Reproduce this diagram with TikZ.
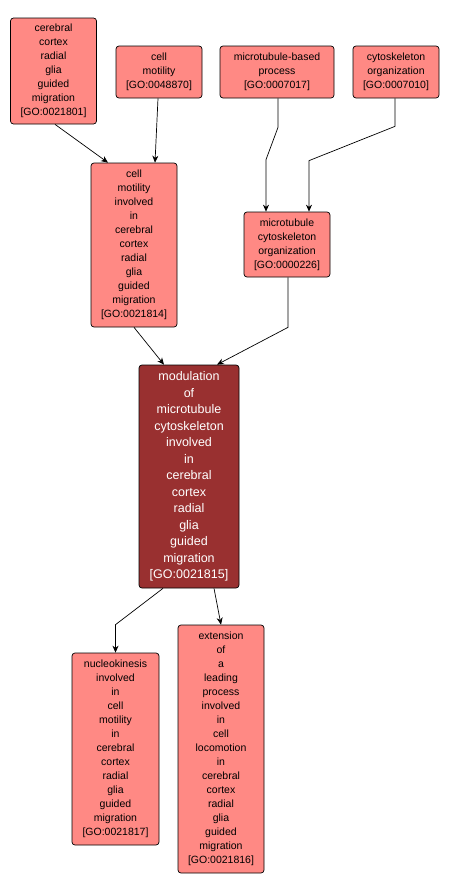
\documentclass[tikz,border=0pt]{standalone}
\usepackage{fontspec}
\setmainfont{Liberation Sans}
\definecolor{salmonred}{RGB}{255,137,132}
\definecolor{darkbrickred}{RGB}{153,48,48}
\usetikzlibrary{arrows.meta, positioning}
\tikzstyle{term}=[rectangle, rounded corners=3pt, draw=black, line width=0.7pt, fill=salmonred, align=center, inner sep=0pt, font=\fontsize{10.5}{14}\selectfont]
\tikzstyle{focus}=[term, fill=darkbrickred, text=white, font=\fontsize{12.5}{16.5}\selectfont]
\tikzstyle{arrow}=[line width=0.7pt, -{Stealth[length=7pt,width=6pt]}]

\begin{document}
\begin{tikzpicture}[x=1pt, y=-1pt]
		\useasboundingbox (0,0) rectangle (449,894);
		\node(n1-1)[term, minimum width=86, minimum height=106] at (53.5,71){cerebral\\cortex\\radial\\glia\\guided\\migration\\{[GO:0021801]}};
		\node(n1-2)[term, minimum width=86, minimum height=52] at (159,72){cell\\motility\\{[GO:0048870]}};
		\node(n1-3)[term, minimum width=114, minimum height=52] at (277,72){microtubule-based\\process\\{[GO:0007017]}};
		\node(n1-4)[term, minimum width=86, minimum height=52] at (396,72){cytoskeleton\\organization\\{[GO:0007010]}};
		\node(n2-1)[term, minimum width=86, minimum height=164] at (134,245){cell\\motility\\involved\\in\\cerebral\\cortex\\radial\\glia\\guided\\migration\\{[GO:0021814]}};
		\node(n2-2)[term, minimum width=86, minimum height=65] at (287,244.5){microtubule\\cytoskeleton\\organization\\{[GO:0000226]}};
		\node(n3)[focus, minimum width=100, minimum height=223] at (189,476.5){modulation\\of\\microtubule\\cytoskeleton\\involved\\in\\cerebral\\cortex\\radial\\glia\\guided\\migration\\{[GO:0021815]}};
		\node(n4-1)[term, minimum width=87, minimum height=192] at (115.5,749){nucleokinesis\\involved\\in\\cell\\motility\\in\\cerebral\\cortex\\radial\\glia\\guided\\migration\\{[GO:0021817]}};
		\node(n4-2)[term, minimum width=86, minimum height=248] at (221,749){extension\\of\\a\\leading\\process\\involved\\in\\cell\\locomotion\\in\\cerebral\\cortex\\radial\\glia\\guided\\migration\\{[GO:0021816]}};
		
		\draw[arrow]([xshift=1.5pt]n1-1.south)--([xshift=-26pt]n2-1.north);
		\draw[arrow]([xshift=-1pt]n1-2.south)--([xshift=21pt]n2-1.north);
		\draw[arrow]([xshift=1pt]n1-3.south)--++(0,29)--([xshift=-21pt,yshift=52pt]n2-2.north)--([xshift=-21pt]n2-2.north);
		\draw[arrow]([xshift=-1pt]n1-4.south)--++(0,28)--([xshift=22pt,yshift=51pt]n2-2.north)--([xshift=22pt]n2-2.north);
		\draw[arrow]([xshift=0pt]n2-1.south)--([xshift=-25pt]n3.north);
		\draw[arrow]([xshift=1pt]n2-2.south)--++(0,50)--([xshift=28pt]n3.north);
		\draw[arrow]([xshift=-26pt]n3.south)--([yshift=28pt]n4-1.north)--(n4-1.north);
		\draw[arrow]([xshift=25pt]n3.south)--(n4-2.north);
	\end{tikzpicture}
\end{document}
